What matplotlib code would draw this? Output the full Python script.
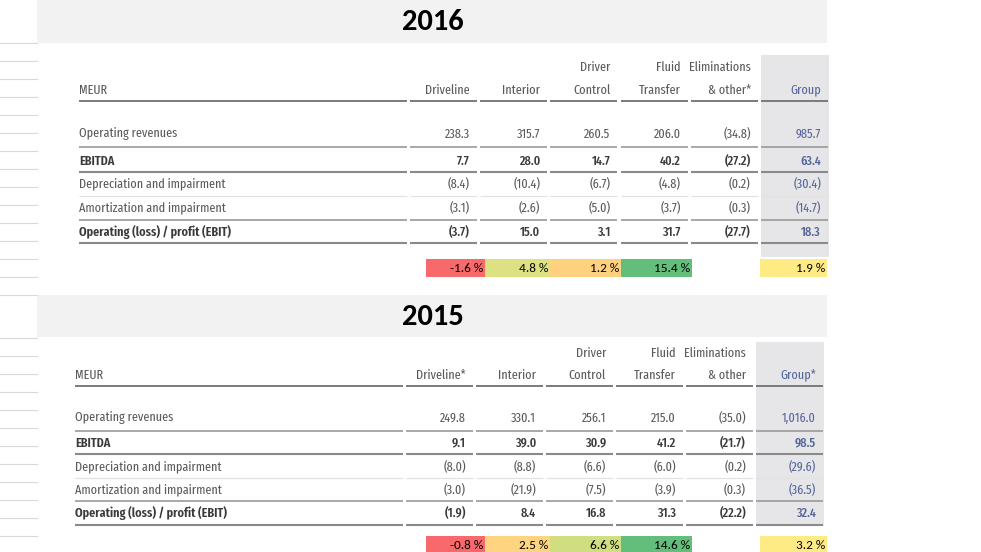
import numpy as np
import matplotlib.pyplot as plt
from matplotlib.colors import LinearSegmentedColormap, TwoSlopeNorm

# data
years = ["2016", "2015"]
header_top = {"2016": ["", "", "Driver", "Fluid", "Eliminations", ""],
              "2015": ["", "", "Driver", "Fluid", "Eliminations", ""]}
header_bot = {"2016": ["Driveline", "Interior", "Control", "Transfer", "& other*", "Group"],
              "2015": ["Driveline*", "Interior", "Control", "Transfer", "& other", "Group*"]}
row_labels = ["Operating revenues", "EBITDA", "Depreciation and impairment",
              "Amortization and impairment", "Operating (loss) / profit (EBIT)"]
bold_rows = [False, True, False, False, True]

values_2016 = [[238.3, 315.7, 260.5, 206.0, -34.8, 985.7],
               [7.7, 28.0, 14.7, 40.2, -27.2, 63.4],
               [-8.4, -10.4, -6.7, -4.8, -0.2, -30.4],
               [-3.1, -2.6, -5.0, -3.7, -0.3, -14.7],
               [-3.7, 15.0, 3.1, 31.7, -27.7, 18.3]]
values_2015 = [[249.8, 330.1, 256.1, 215.0, -35.0, 1016.0],
               [9.1, 39.0, 30.9, 41.2, -21.7, 98.5],
               [-8.0, -8.8, -6.6, -6.0, -0.2, -29.6],
               [-3.0, -21.9, -7.5, -3.9, -0.3, -36.5],
               [-1.9, 8.4, 16.8, 31.3, -22.2, 32.4]]
# EBIT margin, %  (None = no cell)
margin_2016 = [-1.6, 4.8, 1.2, 15.4, None, 1.9]
margin_2015 = [-0.8, 2.5, 6.6, 14.6, None, 3.2]

values = {"2016": values_2016, "2015": values_2015}
margins = {"2016": margin_2016, "2015": margin_2015}

# layout (pixels)
layout = {
    "2016": dict(band=(0, 43), label_x=79, seg0=410, step=70.2, hdr=(67, 90), hline=101,
                 rows=[134, 161, 184, 208, 232], lines=[147, 172, 196, 220, 243],
                 grp_bg=(55, 257), box=(259, 277)),
    "2015": dict(band=(295, 337), label_x=75, seg0=406, step=70.0, hdr=(353, 375), hline=386,
                 rows=[418, 443, 467, 490, 513], lines=[431, 454, 478, 501, 525],
                 grp_bg=(342, 526), box=(536, 554)),
}
box_edges = [(426, 485), (485, 550), (550, 621), (621, 692), None, (760, 827)]
line_styles = [("#9a9a9a", 1.2), ("#8a8a8a", 1.5), ("#e2e2e2", 0.9), ("#9a9a9a", 1.2), ("#8a8a8a", 1.5)]

txt_font = ["Fira Sans Extra Condensed", "Fira Sans Condensed", "Archivo Narrow", "DejaVu Sans"]
xl_font = ["Carlito", "Lato", "DejaVu Sans"]
fs = 9.5
grey = "#5a5a5a"
dark = "#3a3a3a"
blue = "#55659a"

cmap = LinearSegmentedColormap.from_list("xl3", ["#F8696B", "#FFEB84", "#63BE7B"])


def fmt(v):
    s = f"{abs(v):,.1f}"
    return f"({s})" if v < 0 else s


fig = plt.figure(figsize=(9.81, 5.52), dpi=100)
ax = fig.add_axes([0, 0, 1, 1])
ax.set_xlim(0, 981)
ax.set_ylim(552, 0)
ax.axis("off")

# spreadsheet gridlines on the left
for gy in list(range(43, 280, 18)) + [295] + list(range(338, 552, 18)):
    ax.plot([0, 37], [gy, gy], color="#d9d9d9", lw=0.8)

for yr in years:
    L = layout[yr]
    b0, b1 = L["band"]
    ax.add_patch(plt.Rectangle((37, b0), 790, b1 - b0, color="#f2f2f2", lw=0))
    ax.text(433, (b0 + b1) / 2 + 1, yr, ha="center", va="center", fontsize=22,
            fontweight="bold", family=xl_font, color="black")

    segs = [(L["seg0"] + i * L["step"], L["seg0"] + i * L["step"] + 67) for i in range(6)]
    # group column shading
    g0, g1 = L["grp_bg"]
    ax.add_patch(plt.Rectangle((segs[5][0], g0), 68, g1 - g0, color="#e6e6e9", lw=0))

    # header
    h1, h2 = L["hdr"]
    ax.text(L["label_x"], h2, "MEUR", ha="left", va="center", fontsize=fs, family=txt_font, color=grey)
    for i in range(6):
        c = blue if i == 5 else grey
        xr = segs[i][1] - 7
        ax.text(xr, h2, header_bot[yr][i], ha="right", va="center", fontsize=fs, family=txt_font, color=c)
        if header_top[yr][i]:
            ax.text(xr, h1, header_top[yr][i], ha="right", va="center", fontsize=fs, family=txt_font, color=c)
    ax.plot([L["label_x"], segs[0][0] - 3], [L["hline"]] * 2, color="#7a7a7a", lw=1.4, solid_capstyle="butt")
    for s0, s1 in segs:
        ax.plot([s0, s1], [L["hline"]] * 2, color="#7a7a7a", lw=1.4, solid_capstyle="butt")

    # body
    for r, lab in enumerate(row_labels):
        y = L["rows"][r]
        ax.text(L["label_x"], y, lab, ha="left", va="center", fontsize=fs, family=txt_font,
                color=dark if bold_rows[r] else grey,
                fontweight="semibold" if bold_rows[r] else "normal")
        for i in range(6):
            c = blue if i == 5 else (dark if bold_rows[r] else grey)
            ax.text(segs[i][1] - 7, y, fmt(values[yr][r][i]), ha="right", va="center",
                    fontsize=fs, family=txt_font, color=c,
                    fontweight="medium" if bold_rows[r] else "normal")
        lc, lw = line_styles[r]
        ly = L["lines"][r]
        ax.plot([L["label_x"], segs[0][0] - 3], [ly, ly], color=lc, lw=lw, solid_capstyle="butt")
        for s0, s1 in segs:
            ax.plot([s0, s1], [ly, ly], color=lc, lw=lw, solid_capstyle="butt")

    # margin cells with Excel-like 3-colour scale
    m = [v for v in margins[yr] if v is not None]
    norm = TwoSlopeNorm(vmin=min(m), vcenter=float(np.median(m)), vmax=max(m))
    y0, y1 = L["box"]
    for i, v in enumerate(margins[yr]):
        if v is None:
            continue
        x0, x1 = box_edges[i]
        ax.add_patch(plt.Rectangle((x0, y0), x1 - x0, y1 - y0, color=cmap(norm(v)), lw=0))
        ax.text(x1 - 2, (y0 + y1) / 2 + 0.5, f"{v:.1f} %", ha="right", va="center",
                fontsize=9.5, family=xl_font, color="black")

fig.savefig("out.png", dpi=100)
